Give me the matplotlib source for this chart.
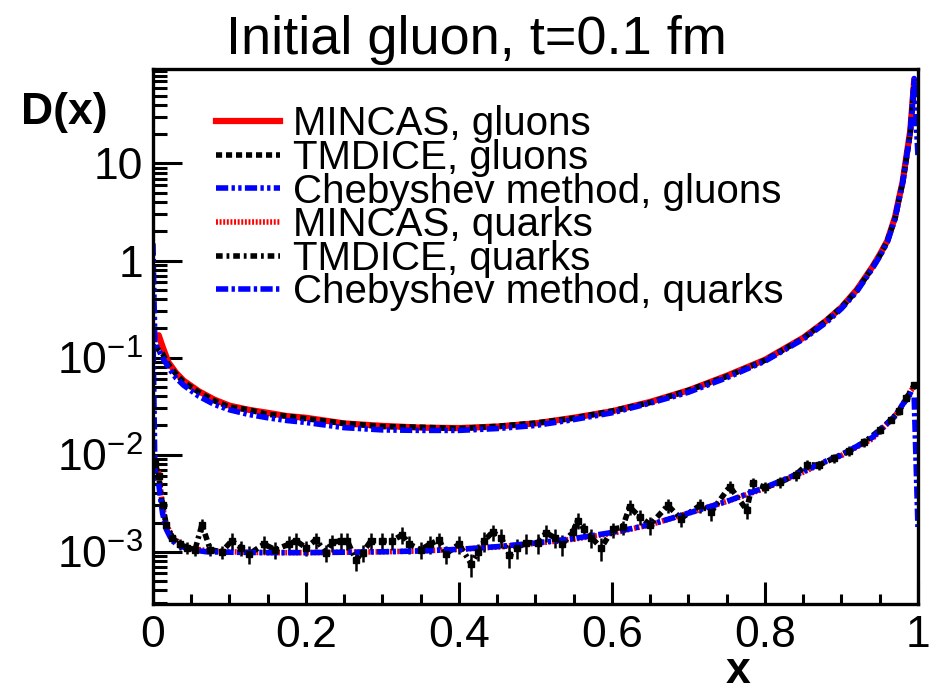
import numpy as np
import matplotlib
matplotlib.use("Agg")
import matplotlib.pyplot as plt
from matplotlib.ticker import FixedLocator, LogLocator, NullFormatter

plt.rcParams['font.family'] = ['Liberation Sans', 'DejaVu Sans']
plt.rcParams['mathtext.fontset'] = 'custom'
plt.rcParams['mathtext.rm'] = 'Liberation Sans'
plt.rcParams['mathtext.it'] = 'Liberation Sans:italic'
plt.rcParams['mathtext.bf'] = 'Liberation Sans:bold'

# gluon curves
xg = [0.0025, 0.0075, 0.0125, 0.02, 0.03, 0.04, 0.06, 0.08, 0.1, 0.125, 0.15, 0.175,
      0.2, 0.25, 0.3, 0.35, 0.4, 0.45, 0.5, 0.55, 0.6, 0.65, 0.7, 0.75, 0.8, 0.85,
      0.88, 0.9, 0.92, 0.94, 0.95, 0.96, 0.97, 0.975, 0.98, 0.985, 0.99, 0.995]
mincas_g = [0.16, 0.17, 0.13, 0.09, 0.07, 0.058, 0.045, 0.037, 0.032, 0.029, 0.027, 0.025,
            0.024, 0.021, 0.0198, 0.019, 0.0188, 0.0195, 0.021, 0.024, 0.028, 0.035, 0.046, 0.065, 0.095, 0.16,
            0.24, 0.33, 0.5, 0.85, 1.15, 1.6, 2.8, 4.3, 6.5, 12, 22, 70]
tmdice_g = [0.13, 0.12, 0.11, 0.085, 0.068, 0.056, 0.044, 0.036, 0.031, 0.029, 0.026, 0.025,
            0.0235, 0.021, 0.0195, 0.0192, 0.0186, 0.0196, 0.0212, 0.0238, 0.0282, 0.0345, 0.046, 0.064, 0.094, 0.158,
            0.24, 0.33, 0.49, 0.84, 1.12, 1.6, 2.7, 4.2, 6.4, 11.5, 21, 68]
xg_cheb = [0.0] + xg + [1.0]
cheb_g = [1.5, 0.14, 0.12, 0.1, 0.08, 0.062, 0.052, 0.04, 0.033, 0.029, 0.026, 0.024, 0.0225,
          0.0215, 0.019, 0.018, 0.0178, 0.0178, 0.0186, 0.02, 0.023, 0.027, 0.034, 0.044, 0.062, 0.092, 0.155,
          0.23, 0.32, 0.48, 0.82, 1.1, 1.55, 2.7, 4.2, 6.3, 11.5, 21, 75, 12]

# quark curves
xq = [0.0025, 0.0075, 0.0125, 0.0175, 0.025, 0.035, 0.05, 0.07, 0.1, 0.15, 0.2, 0.25,
      0.3, 0.35, 0.4, 0.45, 0.5, 0.55, 0.6, 0.65, 0.7, 0.75, 0.8, 0.85, 0.88, 0.9,
      0.92, 0.94, 0.96, 0.97, 0.98, 0.99, 0.995]
mincas_q = [0.0078, 0.0065, 0.0029, 0.0019, 0.00145, 0.0012, 0.00108, 0.00103, 0.001, 0.00098, 0.00098, 0.00099,
            0.001, 0.00102, 0.00106, 0.00112, 0.00122, 0.00135, 0.00155, 0.0019, 0.0025, 0.0033, 0.0045, 0.0066, 0.0085, 0.0098,
            0.012, 0.0145, 0.021, 0.025, 0.033, 0.045, 0.05]
xq_cheb = [0.0] + xq + [1.0]
cheb_q = [0.2, 0.007, 0.005, 0.0025, 0.0017, 0.0013, 0.00115, 0.00105, 0.001, 0.00099, 0.00098, 0.00098, 0.00099,
          0.001, 0.00102, 0.00106, 0.00113, 0.00123, 0.00137, 0.00158, 0.0019, 0.0025, 0.0033, 0.0046, 0.0067, 0.0086, 0.0099,
          0.0122, 0.015, 0.021, 0.025, 0.033, 0.042, 0.04, 0.0018]

# TMDICE quarks: points with error bars
xt = [0.0025, 0.0075, 0.0125, 0.0175, 0.025, 0.035, 0.045, 0.055, 0.064, 0.075, 0.09, 0.103,
      0.115, 0.126, 0.145, 0.16, 0.178, 0.187, 0.2, 0.213, 0.226, 0.234, 0.246, 0.254,
      0.265, 0.274, 0.285, 0.3, 0.313, 0.326, 0.335, 0.35, 0.362, 0.374, 0.383, 0.4,
      0.416, 0.425, 0.433, 0.444, 0.455, 0.466, 0.476, 0.488, 0.503, 0.514, 0.525, 0.535,
      0.549, 0.555, 0.564, 0.573, 0.586, 0.601, 0.614, 0.623, 0.636, 0.65, 0.673, 0.69,
      0.715, 0.73, 0.754, 0.776, 0.784, 0.8, 0.82, 0.84, 0.855, 0.87, 0.89, 0.91,
      0.93, 0.95, 0.965, 0.975, 0.985, 0.995]
tmdice_q = [0.008, 0.006, 0.003, 0.0019, 0.0014, 0.0012, 0.0011, 0.00105, 0.0019, 0.00105, 0.001, 0.0013,
            0.0011, 0.00095, 0.0012, 0.00105, 0.0012, 0.0013, 0.0011, 0.00133, 0.00098, 0.00125, 0.0013, 0.0013,
            0.00083, 0.00098, 0.0013, 0.0013, 0.0013, 0.0015, 0.0012, 0.00105, 0.0012, 0.00133, 0.00095, 0.0012,
            0.00075, 0.001, 0.0013, 0.0016, 0.0014, 0.00093, 0.0011, 0.00124, 0.00124, 0.00157, 0.0014, 0.0012,
            0.0016, 0.0021, 0.0017, 0.0014, 0.0011, 0.0017, 0.0018, 0.0029, 0.0023, 0.0019, 0.003, 0.0022,
            0.003, 0.0026, 0.0047, 0.0027, 0.0051, 0.0046, 0.0052, 0.0062, 0.0079, 0.0078, 0.0092, 0.011,
            0.0135, 0.018, 0.023, 0.028, 0.038, 0.052]
tmdice_q_err = [0.0006, 0.0005, 0.0003, 0.0002, 0.00015, 0.00015, 0.00015, 0.00015, 0.0003, 0.00015, 0.00015, 0.00025,
                0.0002, 0.0002, 0.00025, 0.0002, 0.00025, 0.00025, 0.0002, 0.00025, 0.0002, 0.00025, 0.00025, 0.00025,
                0.0002, 0.0002, 0.00025, 0.00025, 0.00025, 0.0003, 0.00025, 0.0002, 0.00025, 0.00025, 0.0002, 0.00025,
                0.0002, 0.0002, 0.0003, 0.0003, 0.0003, 0.00025, 0.00025, 0.0003, 0.0003, 0.0003, 0.0003, 0.0003,
                0.0003, 0.0004, 0.0003, 0.0003, 0.0003, 0.0003, 0.0003, 0.0005, 0.0004, 0.0004, 0.0005, 0.0004,
                0.0005, 0.0005, 0.0007, 0.0005, 0.0007, 0.0006, 0.0007, 0.0008, 0.0009, 0.0009, 0.001, 0.0012,
                0.0014, 0.0017, 0.002, 0.0025, 0.003, 0.004]

labels = ['MINCAS, gluons', 'TMDICE, gluons', 'Chebyshev method, gluons',
          'MINCAS, quarks', 'TMDICE, quarks', 'Chebyshev method, quarks']

fig = plt.figure(figsize=(9.31, 6.92), dpi=100)
ax = fig.add_axes([0.1643, 0.1272, 0.8217, 0.7731])

lw = 4
ax.plot(xg, mincas_g, color='red', lw=lw + 0.5, label=labels[0])
ax.plot(xg, tmdice_g, color='black', lw=lw, dashes=(1.1, 0.7), label=labels[1])
ax.plot(xg_cheb, cheb_g, color='blue', lw=lw, dashes=(2.2, 0.6, 0.6, 0.6, 0.6, 0.6), label=labels[2])
ax.plot(xq, mincas_q, color='red', lw=lw, dashes=(0.35, 0.3), label=labels[3])
ax.plot(xt, tmdice_q, color='black', lw=lw, dashes=(1.2, 0.7, 0.5, 0.7), label=labels[4])
ax.errorbar(xt, tmdice_q, yerr=tmdice_q_err, xerr=0.004, fmt='s', ms=4, color='black',
            ecolor='black', elinewidth=1.8)
ax.plot(xq_cheb, cheb_q, color='blue', lw=lw, dashes=(2.2, 0.6, 0.6, 0.6), label=labels[5])

ax.set_yscale('log')
ax.set_xlim(0, 1)
ax.set_ylim(2.9e-4, 94)

ax.xaxis.set_major_locator(FixedLocator([0, 0.2, 0.4, 0.6, 0.8, 1.0]))
ax.xaxis.set_minor_locator(FixedLocator(np.arange(0, 1.0001, 0.05)))
ax.set_xticklabels(['0', '0.2', '0.4', '0.6', '0.8', '1'])
ax.yaxis.set_major_locator(FixedLocator([1e-3, 1e-2, 1e-1, 1, 10]))
ax.yaxis.set_minor_locator(LogLocator(base=10, subs=np.arange(2, 10)))
ax.yaxis.set_minor_formatter(NullFormatter())
ax.set_yticklabels(['$10^{-3}$', '$10^{-2}$', '$10^{-1}$', '1', '10'])

ax.tick_params(axis='both', which='both', direction='in', width=2.2, labelsize=32,
               top=False, right=False)
ax.tick_params(axis='x', which='major', length=16, pad=8)
ax.tick_params(axis='x', which='minor', length=7.5)
ax.tick_params(axis='y', which='major', length=21, pad=7)
ax.tick_params(axis='y', which='minor', length=10)
for s in ax.spines.values():
    s.set_linewidth(2.4)

leg = ax.legend(loc='upper left', bbox_to_anchor=(0.061, 0.962), frameon=False, fontsize=29,
                handlelength=1.6, handletextpad=0.32, labelspacing=-0.11, borderaxespad=0)

fig.text(476 / 931, 1 - 54 / 692, 'Initial gluon, t=0.1 fm', ha='center', va='baseline', fontsize=39)
fig.text(21 / 931, 1 - 124 / 692, 'D(x)', ha='left', va='baseline', fontsize=32, fontweight='bold')
fig.text(738 / 931, 1 - 683 / 692, 'x', ha='center', va='baseline', fontsize=32, fontweight='bold')

fig.savefig('out.png', dpi=100)
